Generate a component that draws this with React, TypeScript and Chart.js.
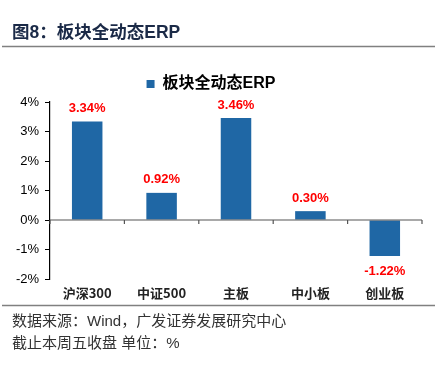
import React, { useEffect, useRef } from "react";
import { Chart, registerables } from "chart.js";

Chart.register(...registerables);

const categories = ["沪深300", "中证500", "主板", "中小板", "创业板"];
const erpValues = [3.34, 0.92, 3.46, 0.3, -1.22];
const yTicks = [-2, -1, 0, 1, 2, 3, 4];
const seriesName = "板块全动态ERP";
const titleText = "图8：板块全动态ERP";
const sourceLine1 = "数据来源：Wind，广发证券发展研究中心";
const sourceLine2 = "截止本周五收盘 单位：%";

const FONT = "'Liberation Sans', Arial, 'Noto Sans CJK SC', sans-serif";
const BAR = "#1f67a5";

export default function App() {
  const ref = useRef<HTMLCanvasElement | null>(null);

  useEffect(() => {
    if (!ref.current) return;
    const decor = {
      id: "decor",
      afterDatasetsDraw(chart: any) {
        const ctx = chart.ctx;
        const x = chart.scales.x;
        const y = chart.scales.y;
        const y0 = y.getPixelForValue(0);
        ctx.save();
        ctx.strokeStyle = "#555";
        ctx.lineWidth = 1.2;
        ctx.beginPath();
        ctx.moveTo(x.left, y0);
        ctx.lineTo(x.right, y0);
        const n = categories.length;
        for (let i = 0; i <= n; i++) {
          const px = x.left + (i * (x.right - x.left)) / n;
          ctx.moveTo(px, y0);
          ctx.lineTo(px, y0 + 4);
        }
        ctx.stroke();
        const meta = chart.getDatasetMeta(0);
        ctx.fillStyle = "#ff0000";
        ctx.font = "bold 13px " + FONT;
        ctx.textAlign = "center";
        ctx.textBaseline = "middle";
        meta.data.forEach((el: any, i: number) => {
          const v = erpValues[i];
          const ty = v >= 0 ? el.y - 13 : el.y + 15;
          ctx.fillText(v.toFixed(2) + "%", el.x, ty);
        });
        ctx.restore();
      },
      afterDraw(chart: any) {
        const ctx = chart.ctx;
        ctx.save();
        ctx.fillStyle = "#1b2a47";
        ctx.font = "bold 17.5px " + FONT;
        ctx.textAlign = "left";
        ctx.textBaseline = "middle";
        ctx.fillText(titleText, 12, 33);
        ctx.strokeStyle = "#808080";
        ctx.lineWidth = 1.5;
        ctx.beginPath();
        ctx.moveTo(2, 46.5);
        ctx.lineTo(435, 46.5);
        ctx.moveTo(2, 305.5);
        ctx.lineTo(435, 305.5);
        ctx.stroke();
        ctx.fillStyle = "#333";
        ctx.font = "15px " + FONT;
        ctx.fillText(sourceLine1, 12, 322);
        ctx.fillText(sourceLine2, 12, 344);
        ctx.restore();
      },
    };

    const chart = new Chart(ref.current, {
      type: "bar",
      data: {
        labels: categories,
        datasets: [
          {
            label: seriesName,
            data: erpValues,
            backgroundColor: BAR,
            borderWidth: 0,
            barPercentage: 0.41,
            categoryPercentage: 1,
          },
        ],
      },
      options: {
        animation: false,
        responsive: false,
        maintainAspectRatio: false,
        layout: { padding: { top: 61, left: 0, right: 19, bottom: 63 } },
        plugins: {
          legend: {
            display: true,
            position: "top",
            labels: {
              boxWidth: 8,
              boxHeight: 8,
              color: "#000",
              font: { family: FONT, size: 16, weight: "bold" },
              padding: 15,
            },
          },
          tooltip: { enabled: false },
        },
        scales: {
          x: {
            border: { display: false },
            grid: { display: false },
            ticks: {
              color: "#222",
              padding: -2,
              font: { family: "'Noto Sans CJK SC', " + FONT, size: 13, weight: "bold" },
            },
            afterFit: (s: any) => {
              s.height = 30;
            },
          },
          y: {
            min: -2,
            max: 4,
            afterBuildTicks: (s: any) => {
              s.ticks = yTicks.map((v) => ({ value: v }));
            },
            border: { display: true, color: "#000", width: 1.2 },
            grid: {
              drawOnChartArea: false,
              drawTicks: true,
              tickLength: 5,
              tickColor: "#000",
            },
            ticks: {
              color: "#000",
              padding: 6,
              font: { family: FONT, size: 13 },
              callback: (v: any) => v + "%",
            },
            afterFit: (s: any) => {
              s.width = 50;
            },
          },
        },
      },
      plugins: [decor],
    });
    return () => chart.destroy();
  }, []);

  return (
    <div style={{ position: "fixed", left: 0, top: 0, width: 441, height: 372, background: "#fff" }}>
      <canvas ref={ref} width={441} height={372} style={{ display: "block" }} />
    </div>
  );
}
